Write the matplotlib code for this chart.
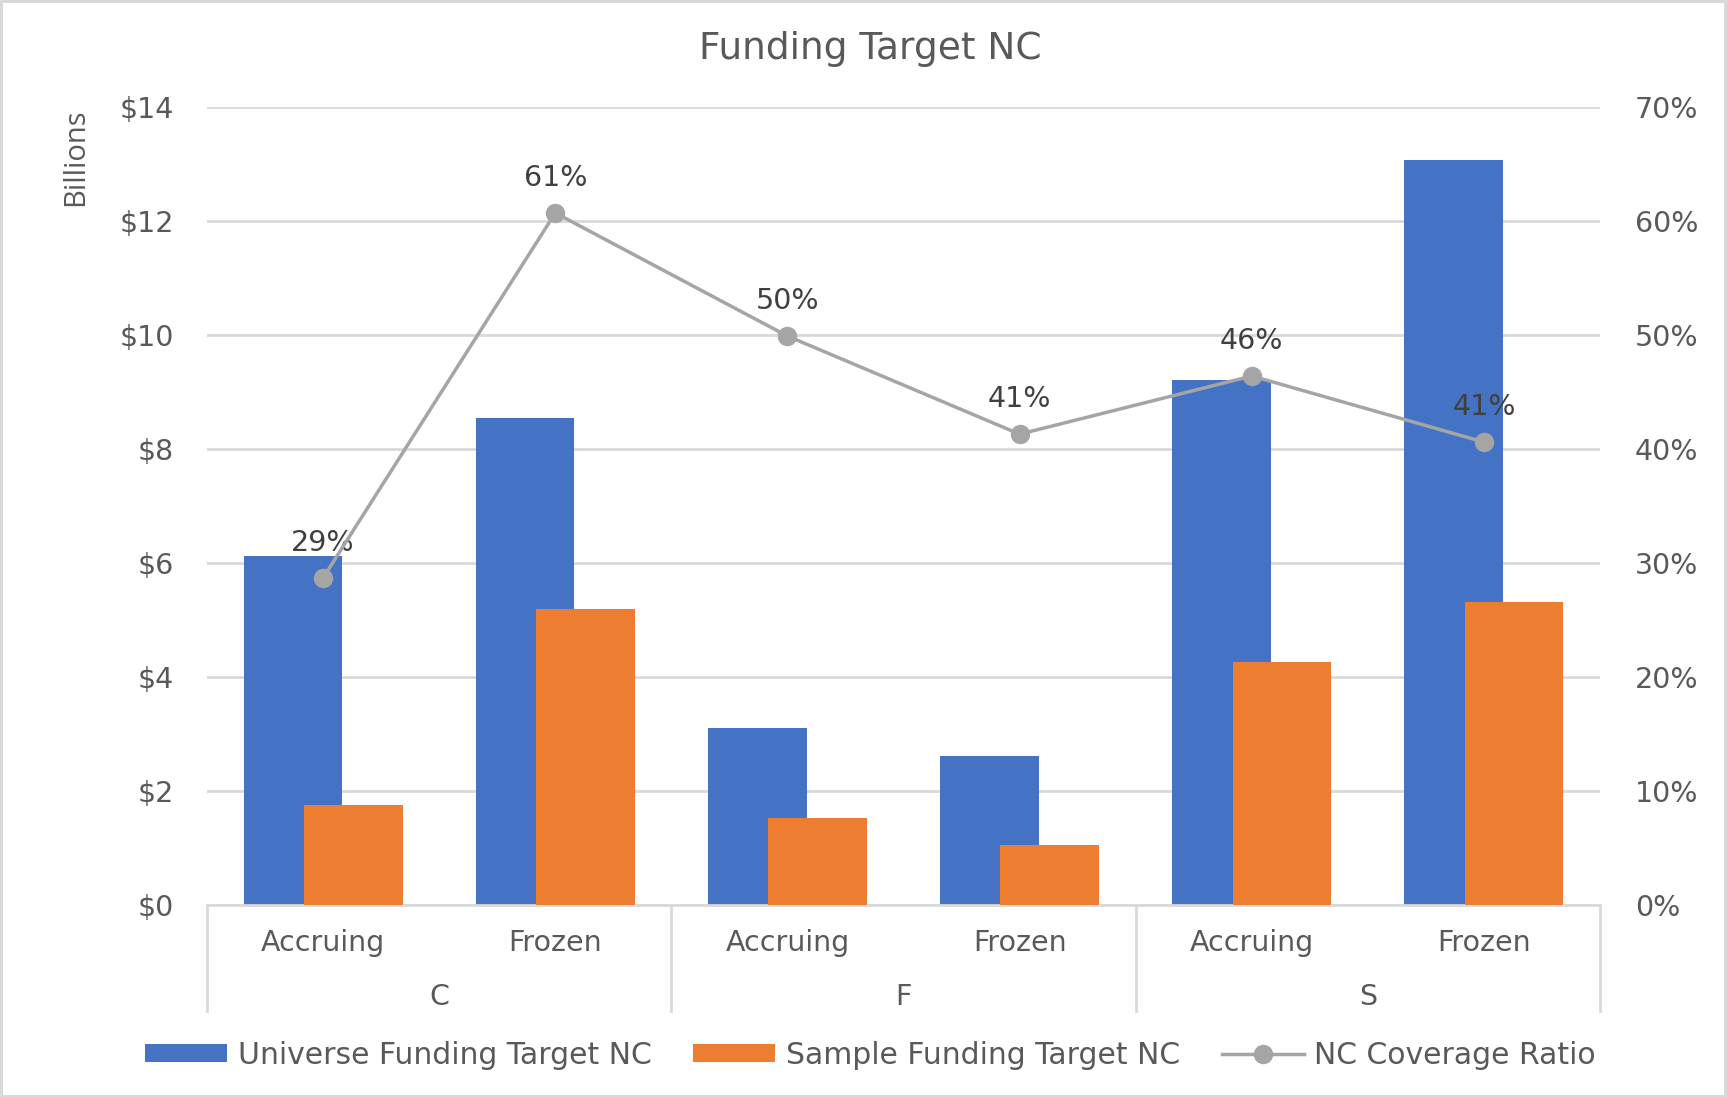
import matplotlib
matplotlib.use("Agg")
import matplotlib.pyplot as plt
import matplotlib.transforms as mtransforms
from matplotlib.ticker import FuncFormatter, MultipleLocator
from matplotlib.lines import Line2D
from matplotlib.patches import Patch

plt.rcParams['font.family'] = ['DejaVu Sans']

groups = ["C", "F", "S"]
subcats = ["Accruing", "Frozen", "Accruing", "Frozen", "Accruing", "Frozen"]
universe = [6.12, 8.55, 3.11, 2.61, 9.21, 13.07]
sample = [1.76, 5.19, 1.53, 1.06, 4.27, 5.31]
ratio = [0.287, 0.607, 0.499, 0.413, 0.464, 0.406]
ratio_labels = ["29%", "61%", "50%", "41%", "46%", "41%"]

BLUE = "#4472C4"
ORANGE = "#ED7D31"
GRAY = "#A5A5A5"
GRID = "#D9D9D9"
TXT = "#595959"
FS = 20.5

fig = plt.figure(figsize=(17.27, 10.98), dpi=100)
fig.patch.set_facecolor("white")
fig.patch.set_edgecolor("#D9D9D9")
fig.patch.set_linewidth(3)

ax = fig.add_axes([0.1199, 0.1758, 0.8066, 0.7268])
x = list(range(len(subcats)))
w = 0.425
off = 0.13
ax.bar([i - off for i in x], universe, width=w, color=BLUE, zorder=2)
ax.bar([i + off for i in x], sample, width=w, color=ORANGE, zorder=3)
ax.set_xlim(-0.5, 5.5)
ax.set_ylim(0, 14)
ax.yaxis.set_major_locator(MultipleLocator(2))
ax.yaxis.set_major_formatter(FuncFormatter(lambda v, p: f"${v:.0f}"))
ax.grid(axis="y", color=GRID, linewidth=2, zorder=0)
ax.set_axisbelow(True)
for s in ["top", "right", "left"]:
    ax.spines[s].set_visible(False)
ax.spines["bottom"].set_color(GRID)
ax.spines["bottom"].set_linewidth(2)
ax.set_xticks([])
ax.tick_params(axis="y", length=0, pad=24, labelsize=FS, labelcolor=TXT)

ax2 = ax.twinx()
ax2.set_ylim(0, 0.70)
ax2.yaxis.set_major_locator(MultipleLocator(0.10))
ax2.yaxis.set_major_formatter(FuncFormatter(lambda v, p: f"{v*100:.0f}%"))
for s in ["top", "right", "left", "bottom"]:
    ax2.spines[s].set_visible(False)
ax2.tick_params(axis="y", length=0, pad=25, labelsize=FS, labelcolor=TXT)
ax2.plot(x, ratio, color=GRAY, linewidth=2.5, marker="o", markersize=13,
         markerfacecolor=GRAY, markeredgecolor=GRAY, zorder=5)
for xi, r, lab in zip(x, ratio, ratio_labels):
    ax2.annotate(lab, (xi, r), xytext=(0, 25), textcoords="offset points",
                 ha="center", va="center", fontsize=FS, color="#404040")

# multi-level category axis
trans = mtransforms.blended_transform_factory(ax.transData, ax.transAxes)
for xb in [-0.5, 1.5, 3.5, 5.5]:
    ax.add_line(Line2D([xb, xb], [0, -0.133], transform=trans, color=GRID,
                       linewidth=2, clip_on=False))
for xi, lab in zip(x, subcats):
    ax.text(xi, -0.048, lab, transform=trans, ha="center", va="center",
            fontsize=FS, color=TXT)
for gi, g in enumerate(groups):
    ax.text(gi * 2 + 0.5, -0.115, g, transform=trans, ha="center", va="center",
            fontsize=FS, color=TXT)

ax.set_ylabel("Billions", fontsize=21, color=TXT, labelpad=0,
              family="Open Sans")
ax.yaxis.set_label_coords(-0.084, 0.937)

fig.text(0.504, 0.955, "Funding Target NC", ha="center", va="center",
         fontsize=27, color=TXT)

handles = [Patch(facecolor=BLUE), Patch(facecolor=ORANGE),
           Line2D([0], [0], color=GRAY, linewidth=2.5, marker="o",
                  markersize=13)]
labels = ["Universe Funding Target NC", "Sample Funding Target NC",
          "NC Coverage Ratio"]
fig.legend(handles, labels, loc="center", bbox_to_anchor=(0.504, 0.039),
           ncol=3, frameon=False, fontsize=21.5, labelcolor=TXT,
           handlelength=2.75, handleheight=0.55, handletextpad=0.35,
           columnspacing=1.4)

fig.savefig("out.png", dpi=100, facecolor=fig.get_facecolor(),
            edgecolor=fig.get_edgecolor())
